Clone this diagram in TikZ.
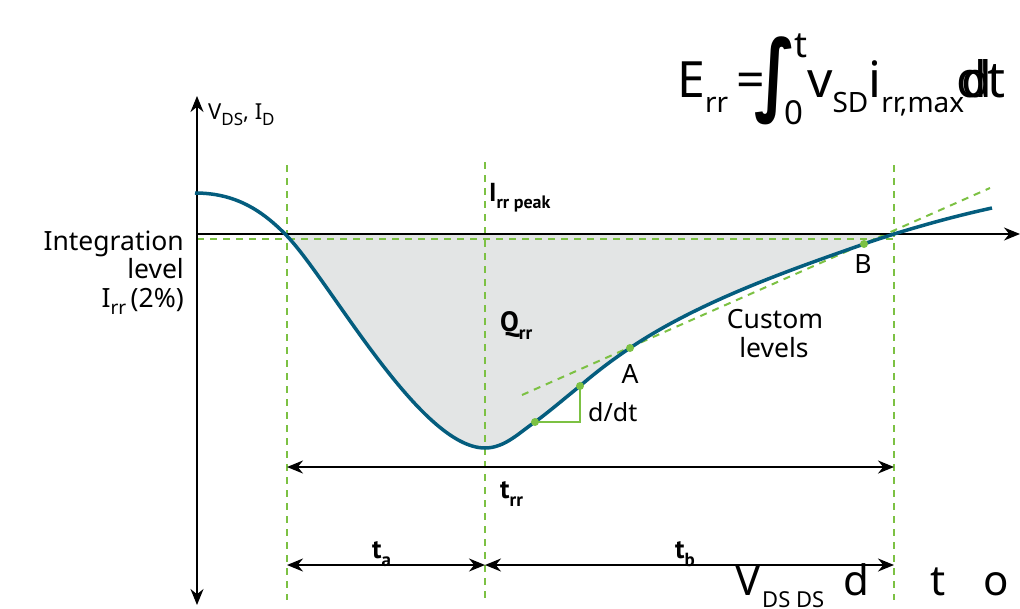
\documentclass[tikz,border=0pt]{standalone}
\usepackage{fontspec}
\usepackage{graphicx}
\setmainfont{Noto Sans}
\newfontfamily\dinfont{PT Sans}
\newfontfamily\symfont{DejaVu Sans}
\usetikzlibrary{arrows.meta}
\definecolor{curvecol}{HTML}{045D7E}
\definecolor{grn}{HTML}{7CC143}
\definecolor{fillgray}{HTML}{E3E5E5}
\newcommand{\mysub}[2]{\raisebox{-0.3em}{\fontsize{#1}{#1}\selectfont #2}}
\newcommand{\fs}[1]{\fontsize{#1}{#1}\selectfont}
\begin{document}
\begin{tikzpicture}[x=1pt,y=-1pt,
  gdash/.style={grn, line width=2pt, dash pattern=on 7pt off 6pt},
  dimarrow/.style={line width=2pt, {Stealth[length=16pt,width=13pt]}-{Stealth[length=16pt,width=13pt]}},
  axisarrow/.style={line width=2pt, -{Stealth[length=16pt,width=13pt]}},
  curveline/.style={curvecol, line width=3.5pt},
  gdot/.style={circle, fill=grn, inner sep=0pt, minimum size=8pt},
  lbl/.style={inner sep=0pt, font=\fs{26.5}},
  dlbl/.style={inner sep=0pt, font=\dinfont\bfseries\fs{27}},
  big/.style={inner sep=0pt, font=\fs{50}},
]
\useasboundingbox (0,0) rectangle (1020,608);

% key coordinates
\coordinate (S) at (195,193);
\coordinate (C1) at (287,236);
\coordinate (M) at (485,448);
\coordinate (P1) at (535,422);
\coordinate (P2) at (580,386);
\coordinate (A) at (630,348);
\coordinate (B) at (864,244);
\coordinate (C2) at (894,234);
\coordinate (E) at (992,208);
\coordinate (TA) at (522,395);
\coordinate (TB) at (990,188);
\coordinate (O) at (197,234);
\coordinate (Xend) at (1020,234);
\coordinate (Ytop) at (197,96);
\coordinate (Ybot) at (197,605);
\coordinate (L1) at (197,239);
\coordinate (L2) at (894,239);
\coordinate (V1t) at (287,165);
\coordinate (V1b) at (287,600);
\coordinate (V2t) at (485,162);
\coordinate (V2b) at (485,600);
\coordinate (V3t) at (894,165);
\coordinate (V3b) at (894,600);
\coordinate (R1a) at (287,467);
\coordinate (R1b) at (894,467);
\coordinate (R2a) at (287,565);
\coordinate (R2m) at (485,565);
\coordinate (R2b) at (894,565);

% charge area
\fill[fillgray] (287,234) -- (C1)
  .. controls (330,281) and (420,448) .. (M)
  .. controls (505,448) and (520,432) .. (P1)
  .. controls (550,411) and (565,398) .. (P2)
  .. controls (595,373) and (612,360) .. (A)
  .. controls (700,301) and (790,270) .. (B)
  .. controls (875,240) and (885,237) .. (C2) -- cycle;

% green dashed guides
\draw[gdash] (V1t) -- (V1b);
\draw[gdash] (V2t) -- (V2b);
\draw[gdash] (V3t) -- (V3b);
\draw[gdash] (L1) -- (L2);
\draw[gdash] (TA) -- (TB);

% axes
\draw[axisarrow] (O) -- (Xend);
\draw[line width=2pt, {Stealth[length=16pt,width=13pt]}-{Stealth[length=16pt,width=13pt]}] (Ybot) -- (Ytop);

% curve
\draw[curveline] (S) .. controls (235,193) and (262,210) .. (C1)
  .. controls (330,281) and (420,448) .. (M)
  .. controls (505,448) and (520,432) .. (P1)
  .. controls (550,411) and (565,398) .. (P2)
  .. controls (595,373) and (612,360) .. (A)
  .. controls (700,301) and (790,270) .. (B)
  .. controls (875,240) and (885,237) .. (C2)
  .. controls (930,223) and (960,215) .. (E);

% slope triangle and points
\draw[grn, line width=2pt] (P1) -| (P2);
\node[gdot] (dP1) at (P1) {};
\node[gdot] (dP2) at (P2) {};
\node[gdot] (dA) at (A) {};
\node[gdot] (dB) at (B) {};

% dimension arrows
\draw[dimarrow] (R1a) -- (R1b);
\draw[dimarrow] (R2a) -- (R2m);
\draw[dimarrow] (R2m) -- (R2b);

% labels
\node[inner sep=0pt, anchor=base west, font=\fs{22}] (yl) at (208,119) {V\mysub{17}{DS}, I\mysub{17}{D}};
\node[inner sep=0pt, anchor=base west, font=\dinfont\bfseries\fs{26}] (peak) at (489,201) {I\mysub{18}{rr peak}};
\node[lbl, anchor=base east] (int1) at (184,250) {Integration};
\node[lbl, anchor=base east] (int2) at (184,278.5) {level};
\node[lbl, anchor=base east] (int3) at (184,307) {I\mysub{19}{rr}\,(2\%)};
\node[inner sep=0pt, anchor=base west, font=\dinfont\bfseries\fs{28}] (Q) at (500,331) {Q\mysub{19}{rr}};
\node[lbl, anchor=base] (lA) at (630,383) {A};
\node[lbl, anchor=base] (lB) at (863,273) {B};
\node[inner sep=0pt, anchor=base west, font=\fs{25}] (ddt) at (588,421) {d/dt};
\node[lbl, anchor=base] (cu1) at (775,328) {Custom};
\node[lbl, anchor=base] (cu2) at (774,357) {levels};
\node[dlbl, anchor=base west] (trr) at (500,498) {t\mysub{19}{rr}};
\node[dlbl, anchor=base west] (ta) at (372,558) {t\mysub{19}{a}};
\node[dlbl, anchor=base west] (tb) at (675,558) {t\mysub{19}{b}};

% formula (top right)
\node[big, anchor=base west] (fE) at (677,97) {E\mysub{28}{rr}\,=};
\node[inner sep=0pt, anchor=center] (fint) at (775,81) {\scalebox{1.1}[1.45]{\symfont\bfseries\fs{62}∫}};
\node[inner sep=0pt, anchor=base west, font=\fs{36}] (fup) at (794,57) {t};
\node[inner sep=0pt, anchor=base west, font=\fs{33}] (flo) at (784,124) {0};
\node[big, anchor=base west] (fv) at (807,97) {v\mysub{28}{SD}i\mysub{28}{rr,max}};
\node[big, anchor=base west] (fd1) at (956,97) {d};
\node[big, anchor=base west] (fd2) at (961,97) {d};
\node[big, anchor=base west] (ft) at (987,97) {t};

% fragments bottom right
\node[inner sep=0pt, anchor=base west, font=\fs{42}] (bV) at (735,595) {V};
\node[inner sep=0pt, anchor=base west, font=\fs{22}] (bDS) at (762,607) {DS DS};
\node[inner sep=0pt, anchor=base west, font=\fs{42}] (bd) at (843,595) {d};
\node[inner sep=0pt, anchor=base west, font=\fs{42}] (bt) at (930,595) {t};
\node[inner sep=0pt, anchor=base west, font=\fs{42}] (bo) at (983,595) {o};
\end{tikzpicture}
\end{document}
